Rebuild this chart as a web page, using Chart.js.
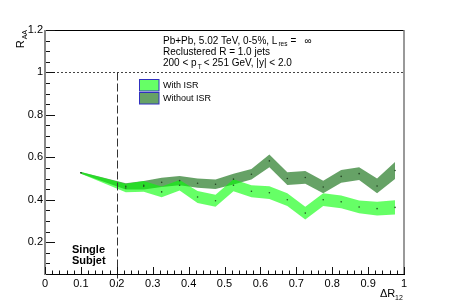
<!DOCTYPE html>
<html><head><meta charset="utf-8">
<script src="https://cdn.jsdelivr.net/npm/chart.js@4.4.0/dist/chart.umd.min.js"></script>
<style>html,body{margin:0;padding:0;background:#fff}#c{display:block}</style>
</head><body>
<canvas id="c" width="449" height="305"></canvas>
<script>
const deltaR = [0.1,0.225,0.275,0.325,0.375,0.425,0.475,0.525,0.575,0.625,0.675,0.725,0.775,0.825,0.875,0.925,0.975];
const withISR = [0.527,0.455,0.463,0.437,0.468,0.413,0.395,0.468,0.440,0.433,0.400,0.337,0.400,0.390,0.366,0.358,0.364];
const withISRErr = [0.004,0.02,0.025,0.025,0.025,0.028,0.028,0.028,0.028,0.03,0.03,0.03,0.03,0.03,0.03,0.032,0.034];
const withoutISR = [0.527,0.463,0.468,0.482,0.490,0.478,0.473,0.497,0.520,0.583,0.500,0.505,0.460,0.510,0.523,0.465,0.538];
const withoutISRErr = [0.004,0.015,0.02,0.022,0.022,0.022,0.022,0.025,0.025,0.03,0.03,0.03,0.03,0.03,0.03,0.035,0.04];
const xTicks = [0,0.1,0.2,0.3,0.4,0.5,0.6,0.7,0.8,0.9,1];
const xTickLabels = ["0","0.1","0.2","0.3","0.4","0.5","0.6","0.7","0.8","0.9","1"];
const yTicks = [0.2,0.4,0.6,0.8,1,1.2];
const yTickLabels = ["0.2","0.4","0.6","0.8","1","1.2"];
const seriesNames = ["With ISR","Without ISR"];

const FONT = '"Liberation Sans", Arial, Helvetica, sans-serif';
const pts = (c, e, s) => deltaR.map((x,i)=>({x, y: c[i] + s*e[i]}));
const band = (label, data, color, fill, order) => ({label, data, borderWidth:0, pointRadius:0, backgroundColor:color, fill, order, tension:0});

const overlay = {
  id:'overlay',
  afterDraw(chart){
    const ctx = chart.ctx, xs = chart.scales.x, ys = chart.scales.y, a = chart.chartArea;
    ctx.save();
    ctx.strokeStyle = '#444'; ctx.lineWidth = 1; ctx.setLineDash([2,2]);
    const y1 = Math.round(ys.getPixelForValue(1)) + 0.5;
    ctx.beginPath(); ctx.moveTo(a.left, y1); ctx.lineTo(a.right, y1); ctx.stroke();
    ctx.setLineDash([8,3]); ctx.strokeStyle = '#333';
    const x2 = Math.round(xs.getPixelForValue(0.2)) + 0.5;
    ctx.beginPath(); ctx.moveTo(x2, y1); ctx.lineTo(x2, a.bottom + 12); ctx.stroke();
    ctx.setLineDash([]);
    ctx.strokeStyle = '#000'; ctx.lineWidth = 1;
    ctx.beginPath(); ctx.moveTo(a.left, a.top + 0.5); ctx.lineTo(a.right, a.top + 0.5); ctx.stroke();
    ctx.beginPath(); ctx.moveTo(a.left, a.bottom + 0.5); ctx.lineTo(a.right + 1, a.bottom + 0.5); ctx.stroke();
    ctx.strokeStyle = '#777'; ctx.lineWidth = 1.5;
    ctx.beginPath(); ctx.moveTo(a.right, a.top); ctx.lineTo(a.right, a.bottom); ctx.stroke();
    ctx.strokeStyle = '#888'; ctx.lineWidth = 2;
    ctx.beginPath(); ctx.moveTo(a.left, a.top); ctx.lineTo(a.left, a.bottom + 1); ctx.stroke();
    ctx.strokeStyle = '#111'; ctx.lineWidth = 1;
    for (let k = 0; k <= 50; k++) {
      const v = k * 0.02, px = Math.round(xs.getPixelForValue(v)) + 0.5;
      const len = (k % 5 === 0) ? 7 : 3.5;
      ctx.beginPath(); ctx.moveTo(px, a.bottom); ctx.lineTo(px, a.bottom - len); ctx.stroke();
    }
    for (let k = 1; k <= 24; k++) {
      const v = k * 0.05, py = Math.round(ys.getPixelForValue(v)) + 0.5;
      const len = (k % 4 === 0) ? 10 : 5;
      ctx.beginPath(); ctx.moveTo(a.left + 1, py); ctx.lineTo(a.left + len, py); ctx.stroke();
    }
    ctx.fillStyle = '#000'; ctx.textBaseline = 'middle'; ctx.textAlign = 'left';
    const F = '10px ' + FONT, FS = '6.5px ' + FONT;
    ctx.font = F;
    let t = 'Pb+Pb, 5.02 TeV, 0-5%, L';
    ctx.fillText(t, 163, 41);
    let w = ctx.measureText(t).width;
    ctx.font = FS; ctx.fillText('res', 163 + w + 1, 44);
    let w2 = ctx.measureText('res').width;
    ctx.font = F; ctx.fillText('=', 163 + w + w2 + 4, 41);
    ctx.fillText('\u221E', 163 + w + w2 + 18, 41);
    ctx.fillText('Reclustered R = 1.0 jets', 163, 52);
    t = '200 < p';
    ctx.fillText(t, 163, 63); w = ctx.measureText(t).width;
    ctx.font = FS; ctx.fillText('T', 163 + w + 1, 67);
    ctx.font = F; ctx.fillText('< 251 GeV, |y| < 2.0', 163 + w + 7, 63);
    const leg = [['rgba(0,255,0,0.6)', 79], ['rgba(0,100,0,0.6)', 92]];
    leg.forEach(([c, y], i) => {
      ctx.fillStyle = c; ctx.fillRect(139, y, 20, 12);
      ctx.strokeStyle = '#3030c0'; ctx.lineWidth = 1; ctx.strokeRect(139.5, y + 0.5, 19.5, 11.5);
      ctx.fillStyle = '#000'; ctx.font = '9px ' + FONT;
      ctx.fillText(seriesNames[i], 163, y + 6.5);
    });
    ctx.font = 'bold 11px ' + FONT;
    ctx.fillText('Single', 72, 250); ctx.fillText('Subjet', 72, 261);
    ctx.font = '11px ' + FONT; ctx.textAlign = 'left';
    ctx.fillText('\u0394R', 380, 294);
    ctx.font = '7px ' + FONT; ctx.fillText('12', 395, 298);
    ctx.translate(22, 30); ctx.rotate(-Math.PI/2);
    ctx.font = '7px ' + FONT; ctx.textAlign = 'right';
    ctx.fillText('AA', 0, 3);
    const wa = ctx.measureText('AA').width;
    ctx.font = '11px ' + FONT; ctx.fillText('R', -wa - 1, -1);
    ctx.restore();
  }
};

new Chart(document.getElementById('c'), {
  type:'line',
  data:{ datasets:[
    {label:'mWith', data: pts(withISR, withISRErr, 0), showLine:false, pointRadius:0.8, pointBackgroundColor:'#225522', pointBorderWidth:0, order:0},
    {label:'mWithout', data: pts(withoutISR, withoutISRErr, 0), showLine:false, pointRadius:0.8, pointBackgroundColor:'#224422', pointBorderWidth:0, order:0},
    band('woLow', pts(withoutISR, withoutISRErr, -1), 'rgba(0,100,0,0.6)', false, 2),
    band('woHigh', pts(withoutISR, withoutISRErr, 1), 'rgba(0,100,0,0.6)', '-1', 2),
    band('wLow', pts(withISR, withISRErr, -1), 'rgba(0,255,0,0.6)', false, 1),
    band('wHigh', pts(withISR, withISRErr, 1), 'rgba(0,255,0,0.6)', '-1', 1)
  ]},
  options:{
    responsive:false, animation:false, devicePixelRatio:1,
    layout:{padding:{top:30, right:45, left:0, bottom:0}},
    plugins:{legend:{display:false}, tooltip:{enabled:false}},
    scales:{
      x:{type:'linear', min:0, max:1,
        afterBuildTicks: s => { s.ticks = xTicks.map(v=>({value:v})); },
        afterFit: s => { s.height = 31; },
        grid:{display:false, drawTicks:false}, border:{display:false},
        ticks:{autoSkip:false, maxRotation:0, padding:3, color:'#000', font:{family:FONT, size:11},
          callback:(v)=>{ const i = xTicks.findIndex(t=>Math.abs(t-v)<1e-9); return i>=0 ? xTickLabels[i] : ''; }}
      },
      y:{type:'linear', min:0.05, max:1.2,
        afterBuildTicks: s => { s.ticks = yTicks.map(v=>({value:v})); },
        afterFit: s => { s.width = 45; },
        grid:{display:false, drawTicks:false}, border:{display:false},
        ticks:{autoSkip:false, padding:2, color:'#000', font:{family:FONT, size:11},
          callback:(v)=>{ const i = yTicks.findIndex(t=>Math.abs(t-v)<1e-9); return i>=0 ? yTickLabels[i] : ''; }}
      }
    }
  },
  plugins:[overlay]
});
</script>
</body></html>
